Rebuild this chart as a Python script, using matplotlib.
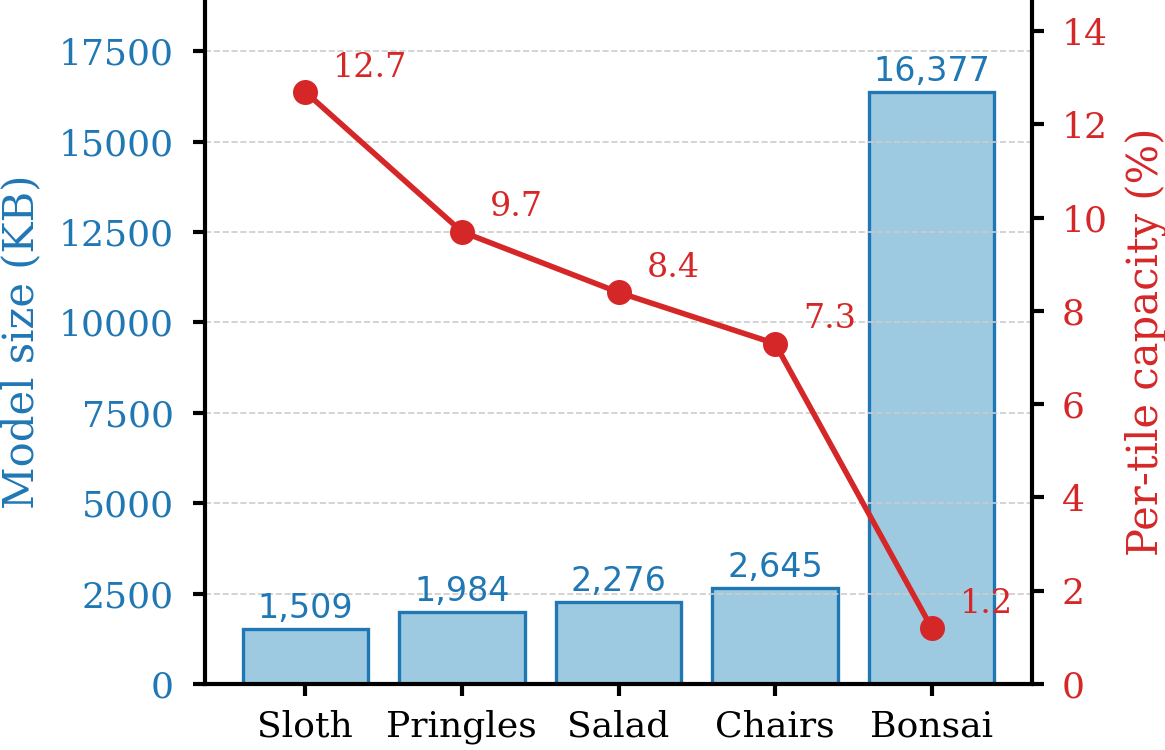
import matplotlib
matplotlib.use("Agg")
import matplotlib.pyplot as plt

plt.rcParams['font.family'] = ['DejaVu Serif']

scenes = ["Sloth", "Pringles", "Salad", "Chairs", "Bonsai"]
model_size_kb = [1509, 1984, 2276, 2645, 16377]
capacity_pct = [12.7, 9.7, 8.4, 7.3, 1.2]
left_ticks = [0, 2500, 5000, 7500, 10000, 12500, 15000, 17500]
right_ticks = [0, 2, 4, 6, 8, 10, 12, 14]

blue = "#1f77b4"
red = "#d62728"

fig = plt.figure(figsize=(5.825, 3.75), dpi=200)
ax = fig.add_axes([205/1165, 66/750, (1032-205)/1165, 684/750])

x = list(range(len(scenes)))
bars = ax.bar(x, model_size_kb, width=0.8, color="#9ecae1", edgecolor=blue, linewidth=1.2, zorder=1)
ax.bar_label(bars, labels=[f"{v:,}" for v in model_size_kb], padding=1.5,
             color=blue, fontsize=12, family="DejaVu Sans")

ax.set_ylim(0, 18915)
ax.set_yticks(left_ticks)
ax.set_xticks(x)
ax.set_xticklabels(scenes, fontsize=13)
ax.set_ylabel("Model size (KB)", color=blue, fontsize=15, labelpad=6)
ax.tick_params(axis='y', labelcolor=blue, labelsize=13, length=4.2, width=1.5, pad=7)
ax.tick_params(axis='x', length=4.2, width=1.5, pad=5)
ax.grid(axis='y', linestyle='--', color='#cccccc', linewidth=0.6, zorder=2)
ax.set_axisbelow(False)
for s in ['left', 'bottom']:
    ax.spines[s].set_linewidth(1.5)
    ax.spines[s].set_zorder(5)
ax.spines['top'].set_visible(False)
ax.spines['right'].set_visible(False)

ax2 = ax.twinx()
ax2.plot(x, capacity_pct, color=red, linewidth=2, marker='o', markersize=8, zorder=3)
for xi, v in zip(x, capacity_pct):
    ax2.annotate(f"{v}", (xi, v), xytext=(10, 3), textcoords='offset points',
                 ha='left', va='bottom', color=red, fontsize=12)
ax2.set_ylim(0, 14.67)
ax2.set_yticks(right_ticks)
ax2.set_ylabel("Per-tile capacity (%)", color=red, fontsize=15, labelpad=6)
ax2.tick_params(axis='y', labelcolor=red, labelsize=13, length=4.2, width=1.5, pad=6.5)
ax2.spines['right'].set_linewidth(1.5)
ax2.spines['top'].set_visible(False)
ax2.spines['left'].set_visible(False)
ax2.spines['bottom'].set_visible(False)

ax.set_xlim(-0.64, 4.64)

fig.savefig("out.png", dpi=200)
